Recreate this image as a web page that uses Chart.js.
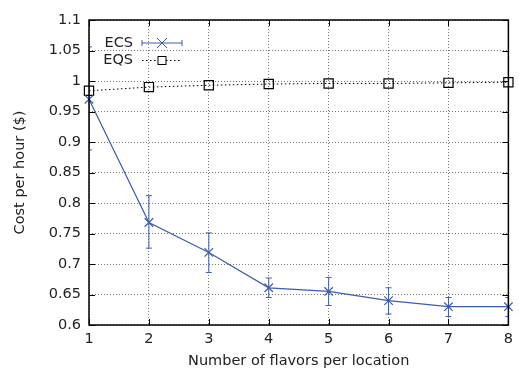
<!DOCTYPE html>
<html>
<head>
<meta charset="utf-8">
<script src="https://cdn.jsdelivr.net/npm/chart.js@4"></script>
<style>
  html, body { margin: 0; padding: 0; background: #fff; }
  #wrap { width: 519px; height: 370px; }
</style>
</head>
<body>
<div id="wrap"><canvas id="chart" width="519" height="370"></canvas></div>
<script>
const flavors = [1, 2, 3, 4, 5, 6, 7, 8];
const ecsCost = [0.97, 0.768, 0.719, 0.661, 0.655, 0.640, 0.630, 0.630];
const ecsLow = [0.887, 0.726, 0.686, 0.645, 0.632, 0.618, 0.614, 0.614];
const ecsHigh = [1.056, 0.812, 0.751, 0.677, 0.678, 0.661, 0.645, 0.645];
const eqsCost = [0.984, 0.990, 0.993, 0.995, 0.996, 0.996, 0.997, 0.998];
const yTicks = [0.6, 0.65, 0.7, 0.75, 0.8, 0.85, 0.9, 0.95, 1, 1.05, 1.1];

const BLUE = 'rgb(62, 92, 172)';
const FONT = 'DejaVu Sans';
const FSIZE = 14.5;

// gnuplot-like error bars, border, inward ticks and key
const gnuplotStyle = {
  id: 'gnuplotStyle',
  afterDatasetsDraw(chart) {
    const ctx = chart.ctx;
    const xs = chart.scales.x, ys = chart.scales.y;
    const a = chart.chartArea;
    ctx.save();
    ctx.beginPath();
    ctx.rect(a.left, a.top, a.right - a.left, a.bottom - a.top);
    ctx.clip();
    ctx.strokeStyle = BLUE;
    ctx.lineWidth = 1;
    flavors.forEach((f, i) => {
      const px = xs.getPixelForValue(f);
      const lo = ys.getPixelForValue(ecsLow[i]);
      const hi = ys.getPixelForValue(ecsHigh[i]);
      ctx.beginPath();
      ctx.moveTo(px, lo); ctx.lineTo(px, hi);
      ctx.moveTo(px - 3, lo); ctx.lineTo(px + 3, lo);
      ctx.moveTo(px - 3, hi); ctx.lineTo(px + 3, hi);
      ctx.stroke();
    });
    ctx.restore();

    ctx.save();
    ctx.strokeStyle = '#000';
    ctx.lineWidth = 1;
    // inward ticks
    ctx.beginPath();
    yTicks.forEach(v => {
      const py = Math.round(ys.getPixelForValue(v)) + 0.5;
      ctx.moveTo(a.left, py); ctx.lineTo(a.left + 6, py);
      ctx.moveTo(a.right, py); ctx.lineTo(a.right - 6, py);
    });
    flavors.forEach(v => {
      const px = Math.round(xs.getPixelForValue(v)) + 0.5;
      ctx.moveTo(px, a.bottom); ctx.lineTo(px, a.bottom - 6);
      ctx.moveTo(px, a.top); ctx.lineTo(px, a.top + 6);
    });
    ctx.stroke();
    ctx.lineWidth = 1.5;
    ctx.strokeRect(a.left, a.top, a.right - a.left, a.bottom - a.top);

    // key
    ctx.font = FSIZE + 'px ' + FONT;
    ctx.fillStyle = '#222';
    ctx.textAlign = 'right';
    ctx.textBaseline = 'middle';
    const kx0 = a.left + 53, kx1 = a.left + 93, kText = a.left + 44;
    const k1 = a.top + 23, k2 = a.top + 40;
    ctx.fillText('ECS', kText, k1);
    ctx.fillText('EQS', kText, k2);
    const km = (kx0 + kx1) / 2;
    ctx.strokeStyle = BLUE;
    ctx.lineWidth = 1;
    ctx.beginPath();
    ctx.moveTo(kx0, k1); ctx.lineTo(kx1, k1);
    ctx.moveTo(kx0, k1 - 3); ctx.lineTo(kx0, k1 + 3);
    ctx.moveTo(kx1, k1 - 3); ctx.lineTo(kx1, k1 + 3);
    ctx.moveTo(km - 5, k1 - 5); ctx.lineTo(km + 5, k1 + 5);
    ctx.moveTo(km - 5, k1 + 5); ctx.lineTo(km + 5, k1 - 5);
    ctx.stroke();
    ctx.strokeStyle = '#000';
    ctx.setLineDash([1.5, 2.5]);
    ctx.beginPath();
    ctx.moveTo(kx0, k2 + 0.5); ctx.lineTo(km - 4, k2 + 0.5);
    ctx.moveTo(km + 4, k2 + 0.5); ctx.lineTo(kx1, k2 + 0.5);
    ctx.stroke();
    ctx.setLineDash([]);
    ctx.strokeRect(km - 4, k2 - 3.5, 8, 8);
    ctx.restore();
  }
};

new Chart(document.getElementById('chart'), {
  type: 'line',
  plugins: [gnuplotStyle],
  data: {
    datasets: [
      {
        label: 'ECS',
        data: flavors.map((f, i) => ({ x: f, y: ecsCost[i] })),
        borderColor: BLUE,
        backgroundColor: BLUE,
        borderWidth: 1.2,
        pointStyle: 'crossRot',
        pointRadius: 6,
        pointBorderWidth: 1.2,
        tension: 0,
        clip: false
      },
      {
        label: 'EQS',
        data: flavors.map((f, i) => ({ x: f, y: eqsCost[i] })),
        borderColor: '#000',
        backgroundColor: 'rgba(0,0,0,0)',
        borderWidth: 1,
        borderDash: [1.5, 2.5],
        pointStyle: 'rect',
        pointRadius: 6.5,
        pointBorderWidth: 1.2,
        tension: 0,
        clip: false
      }
    ]
  },
  options: {
    responsive: false,
    animation: false,
    layout: { padding: { top: 20, right: 9, left: 0, bottom: 0 } },
    plugins: {
      legend: { display: false },
      tooltip: { enabled: false }
    },
    scales: {
      x: {
        type: 'linear',
        min: 1,
        max: 8,
        afterFit(scale) { scale.height = 45; },
        border: { display: false, dash: [1, 2] },
        grid: {
          color: '#777',
          drawTicks: false,
          lineWidth: 1
        },
        ticks: {
          stepSize: 1,
          padding: 6,
          color: '#222',
          font: { family: FONT, size: FSIZE }
        },
        title: {
          display: true,
          text: 'Number of flavors per location',
          color: '#222',
          padding: { top: 2, bottom: 0 },
          font: { family: FONT, size: FSIZE }
        }
      },
      y: {
        type: 'linear',
        min: 0.6,
        max: 1.1,
        afterFit(scale) { scale.width = 89; },
        border: { display: false, dash: [1, 2] },
        grid: {
          color: '#777',
          drawTicks: false,
          lineWidth: 1
        },
        afterBuildTicks(scale) { scale.ticks = yTicks.map(v => ({ value: v })); },
        ticks: {
          padding: 8,
          color: '#222',
          font: { family: FONT, size: FSIZE }
        ,
          callback: v => String(parseFloat(v.toFixed(2)))
        },
        title: {
          display: true,
          text: 'Cost per hour ($)',
          color: '#222',
          padding: { top: 12, bottom: 0 },
          font: { family: FONT, size: FSIZE }
        }
      }
    }
  }
});
</script>
</body>
</html>
